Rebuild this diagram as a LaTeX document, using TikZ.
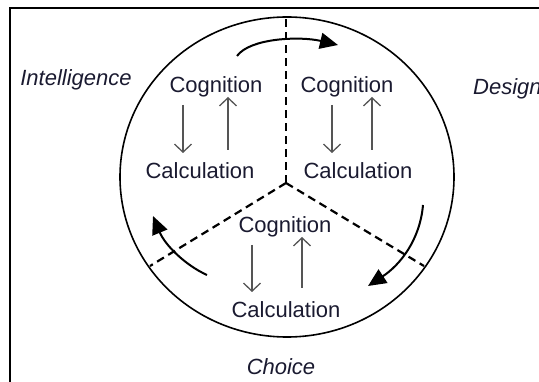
\documentclass[tikz,border=0pt]{standalone}
\usepackage{fontspec}
\setmainfont{Liberation Sans}
\usetikzlibrary{arrows.meta,calc}
\definecolor{txtc}{HTML}{1A1A30}
\definecolor{arrc}{HTML}{555555}
\begin{document}
\begin{tikzpicture}[x=1pt,y=-1pt,
  lbl/.style={font=\fontsize{22}{26}\selectfont, inner sep=0pt, anchor=base, text=txtc},
  phase/.style={font=\fontsize{22}{26}\selectfont\itshape, inner sep=0pt, anchor=base, text=txtc},
  smallarr/.style={draw=arrc, line width=1.3pt, -{Straight Barb[length=8pt,width=17pt,line width=1.3pt]}},
  bigarr/.style={line width=2pt, -{Triangle[length=18pt,width=16pt]}},
  divider/.style={line width=2.2pt, dash pattern=on 8pt off 5pt}]
\useasboundingbox (0,0) rectangle (539,382);
\clip (0,0) rectangle (539,382);
% frame (only top and left edges visible)
\draw[line width=2pt] (9.5,8.5) rectangle (700,500);
% circle
\draw[line width=1.6pt] (287,177) ellipse [x radius=167pt, y radius=160pt];
% dividers
\coordinate (ctr) at (286,183);
\coordinate (dtop) at (286,17);
\coordinate (dleft) at (150,266);
\coordinate (dright) at (424,266);
\draw[divider] (ctr) -- (dtop);
\draw[divider] (ctr) -- (dleft);
\draw[divider] (ctr) -- (dright);
% phase labels
\node[phase] (intel) at (76,86) {Intelligence};
\node[phase, anchor=base west] (design) at (473,95) {Design};
\node[phase] (choice) at (281,375) {Choice};
% inner labels
\node[lbl] (cog1) at (216,93) {Cognition};
\node[lbl] (calc1) at (200,179) {Calculation};
\node[lbl] (cog2) at (347,93) {Cognition};
\node[lbl] (calc2) at (358,179) {Calculation};
\node[lbl] (cog3) at (285,233) {Cognition};
\node[lbl] (calc3) at (286,318) {Calculation};
% small arrows
\draw[smallarr] ($(cog1.base)+(-33,12)$) -- ($(calc1.base)+(-17,-26)$);
\draw[smallarr] ($(calc1.base)+(28,-29)$) -- ($(cog1.base)+(12,4)$);
\draw[smallarr] ($(cog2.base)+(-15,12)$) -- ($(calc2.base)+(-26,-26)$);
\draw[smallarr] ($(calc2.base)+(14,-29)$) -- ($(cog2.base)+(25,4)$);
\draw[smallarr] ($(cog3.base)+(-33,12)$) -- ($(calc3.base)+(-34,-26)$);
\draw[smallarr] ($(calc3.base)+(16,-30)$) -- ($(cog3.base)+(17,4)$);
% big cycle arrows
\coordinate (t1) at (237,56);
\coordinate (t2) at (338,45);
\coordinate (r1) at (423,205);
\coordinate (r2) at (368,286);
\coordinate (l1) at (207,275);
\coordinate (l2) at (153,216);
\draw[bigarr] (t1) .. controls (250,38) and (300,36) .. (t2);
\draw[bigarr] (r1) .. controls (420,240) and (400,265) .. (r2);
\draw[bigarr] (l1) .. controls (185,265) and (165,245) .. (l2);
\end{tikzpicture}
\end{document}
